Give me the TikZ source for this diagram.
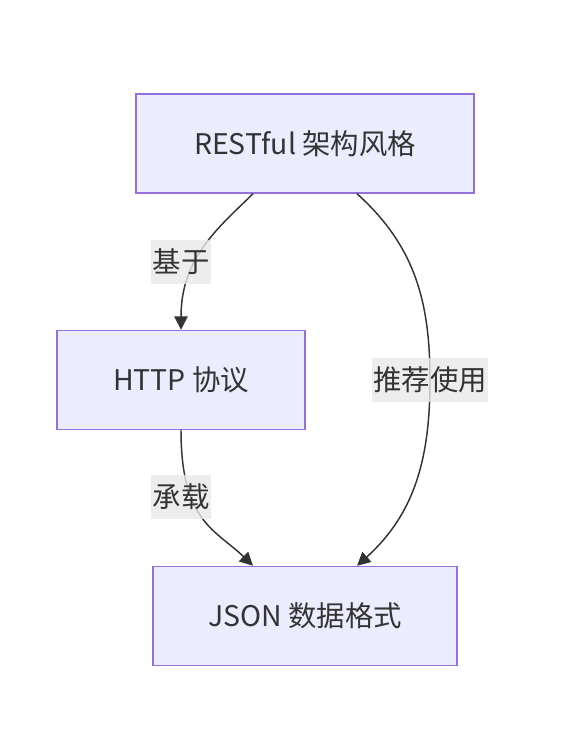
\documentclass[tikz,border=0pt]{standalone}
\usepackage{fontspec}
\usepackage{xcolor}
\usetikzlibrary{arrows.meta}
\newfontfamily\cjk{Noto Sans CJK SC}
\definecolor{boxfill}{HTML}{ECECFF}
\definecolor{boxline}{HTML}{9370DB}
\definecolor{ink}{HTML}{333333}
\definecolor{lblfill}{HTML}{E8E8E8}
\tikzset{
  box/.style={draw=boxline, fill=boxfill, line width=1.1pt, text=ink,
    font=\cjk\fontsize{21.3}{25}\selectfont, minimum height=74.25pt,
    inner sep=0pt},
  lbl/.style={fill=lblfill, fill opacity=0.8, text opacity=1, text=ink,
    font=\cjk\fontsize{21.3}{25}\selectfont, inner sep=1pt,
    minimum height=33pt},
  arr/.style={draw=ink, line width=1.1pt,
    -{Triangle[length=10pt, width=10pt]}}
}
\begin{document}
\begin{tikzpicture}[x=0.75pt, y=-0.75pt]
  \useasboundingbox (0,0) rectangle (562,737);

  % boxes
  \node[box, minimum width=253.5pt] (rest) at (305,143.5) {RESTful 架构风格};
  \node[box, minimum width=186pt] (http) at (181,380) {HTTP 协议};
  \node[box, minimum width=228pt] (json) at (305,616) {JSON 数据格式};

  % edges
  \coordinate (bend) at (430,380);
  \draw[arr] ([xshift=-39pt]rest.south) .. controls (218,228) and (181,258)
    .. (http.north);
  \draw[arr] (http.south) .. controls (181,522) and (216,530)
    .. ([xshift=-39pt]json.north);
  \draw[arr] ([xshift=39pt]rest.south) to[out=-42, in=90] (bend)
    to[out=-90, in=42] ([xshift=39pt]json.north);

  % edge labels
  \node[lbl] (based) at (181,262) {基于};
  \node[lbl] (carry) at (181,497) {承载};
  \node[lbl] (advise) at (bend) {推荐使用};
\end{tikzpicture}
\end{document}
